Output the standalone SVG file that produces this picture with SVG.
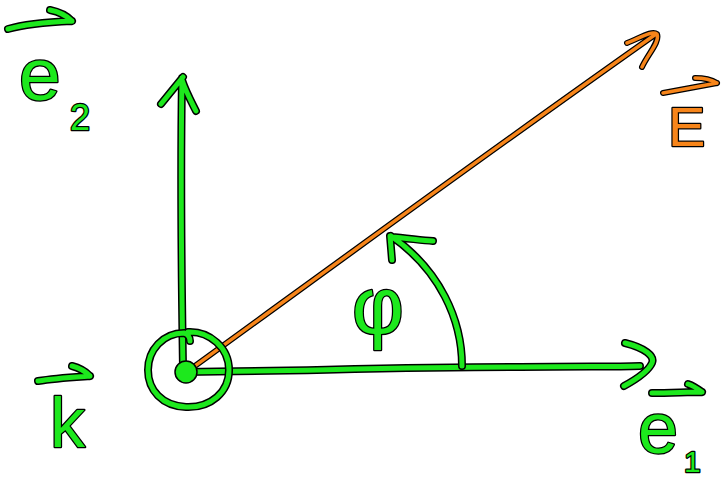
<svg xmlns="http://www.w3.org/2000/svg" xmlns:xlink="http://www.w3.org/1999/xlink" width="722" height="482" viewBox="0 0 722 482">
<style>
.out{fill:none;stroke:#000;stroke-width:8;stroke-linecap:round;stroke-linejoin:round}
.ink{fill:none;stroke:#1de81d;stroke-width:5;stroke-linecap:round;stroke-linejoin:round}
.oout{fill:none;stroke:#000;stroke-width:6;stroke-linecap:round;stroke-linejoin:round}
.oink{fill:none;stroke:#f7851a;stroke-width:3.5;stroke-linecap:round;stroke-linejoin:round}
.lbl{font-family:"Liberation Sans",Arial,sans-serif;fill:#1de81d;stroke:#000;stroke-width:2.5;paint-order:stroke;stroke-linejoin:round}
.olbl{font-family:"Liberation Sans",Arial,sans-serif;fill:#f7851a;stroke:#000;stroke-width:2.5;paint-order:stroke;stroke-linejoin:round}
</style>
<defs>
<path id="pv" d="M183,368 C182,300 180,200 182,78 M161,104 L183,77 M182,80 C186,92 191,101 196,111"/>
<path id="ph" d="M187,372 C300,371 400,367 520,367 C580,366 610,367 640,366 M625,343 C645,348 655,356 652,363 C648,372 635,380 624,386"/>
<path id="pc" d="M188,332 C210,331 229,348 229,370 C229,392 211,408 186,407 C162,406 148,390 148,370 C148,350 163,333 184,333 C188,334 190,338 190,341"/>
<path id="pa" d="M462,366 C462,320 440,270 391,236 M392,260 L390,236 M391,237 C405,238 420,240 433,241"/>
<path id="po" d="M188,371 C300,290 470,165 656,34 M627,43 C640,38 652,30 657,34 C660,42 648,54 642,67"/>
<path id="ae2" d="M8,29 C25,24 50,22 72,21 M50,10 C60,12 68,17 72,21"/>
<path id="aE" d="M663,93 C680,90 700,86 717,83 M695,78 C705,78 712,80 717,83"/>
<path id="ak" d="M38,381 C55,378 75,377 90,376 M72,366 C80,368 86,372 90,376"/>
<path id="ae1" d="M652,393 C670,393 688,392 702,392 M688,384 C694,386 698,389 702,392"/>
</defs>
<g id="connectors">
<g id="axis-e2"><use xlink:href="#pv" class="out"/><use xlink:href="#pv" class="ink"/></g>
<g id="axis-e1"><use xlink:href="#ph" class="out"/><use xlink:href="#ph" class="ink"/></g>
<g id="vector-E"><use xlink:href="#po" class="oout"/><use xlink:href="#po" class="oink"/></g>
<g id="angle-arc"><use xlink:href="#pa" class="out"/><use xlink:href="#pa" class="ink"/></g>
</g>
<g id="axis-k">
<use xlink:href="#pc" class="out"/><use xlink:href="#pc" class="ink"/>
<circle cx="186" cy="372" r="11" fill="#1de81d" stroke="#000" stroke-width="1.5"/>
</g>
<g id="label-e2">
<use xlink:href="#ae2" class="out"/><use xlink:href="#ae2" class="ink"/>
<text class="lbl" x="19" y="100" font-size="75">e</text>
<text class="lbl" x="70" y="130" font-size="36">2</text>
</g>
<g id="label-E">
<use xlink:href="#aE" class="oout"/><use xlink:href="#aE" class="oink"/>
<text class="olbl" x="668" y="146" font-size="56">E</text>
</g>
<g id="label-k">
<use xlink:href="#ak" class="out"/><use xlink:href="#ak" class="ink"/>
<text class="lbl" x="50" y="447" font-size="70">k</text>
</g>
<g id="label-e1">
<use xlink:href="#ae1" class="out"/><use xlink:href="#ae1" class="ink"/>
<text class="lbl" x="638" y="453" font-size="72">e</text>
<text class="lbl" x="684" y="472" font-size="30">1</text>
</g>
<g id="label-phi">
<text class="lbl" x="378" y="333" font-size="80" text-anchor="middle">φ</text>
</g>
</svg>
